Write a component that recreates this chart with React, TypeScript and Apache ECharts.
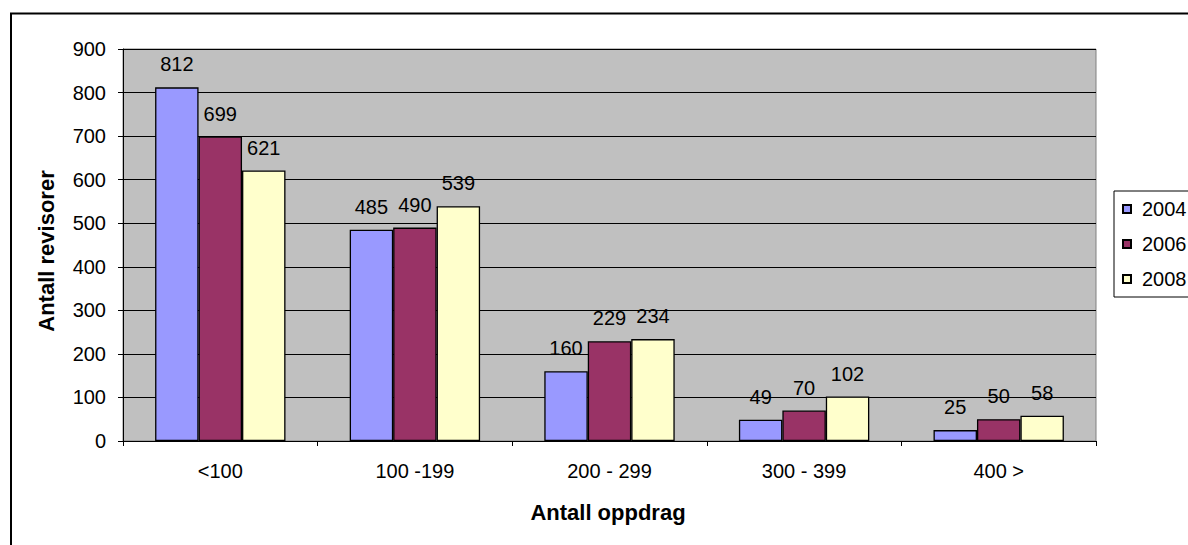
import React, { useEffect, useRef } from "react";
import * as echarts from "echarts";

const categories = ["<100", "100 -199", "200 - 299", "300 - 399", "400 >"];
const seriesNames = ["2004", "2006", "2008"];
const values2004 = [812, 485, 160, 49, 25];
const values2006 = [699, 490, 229, 70, 50];
const values2008 = [621, 539, 234, 102, 58];
const colors = ["#9999FF", "#993366", "#FFFFCC"];
const yAxisTitle = "Antall revisorer";
const xAxisTitle = "Antall oppdrag";

const FONT = "'Liberation Sans', Arial, sans-serif";

export default function App() {
  const ref = useRef<HTMLDivElement>(null);
  useEffect(() => {
    if (!ref.current) return;
    const chart = echarts.init(ref.current, undefined, { renderer: "svg" });
    const data = [values2004, values2006, values2008];
    chart.setOption({
      animation: false,
      backgroundColor: "#ffffff",
      textStyle: { fontFamily: FONT },
      grid: {
        left: 123,
        top: 49,
        right: 92,
        bottom: 104,
        show: true,
        backgroundColor: "#C0C0C0",
        borderColor: "#808080",
        borderWidth: 1,
      },
      legend: {
        orient: "vertical",
        left: 1114,
        top: 191,
        padding: [8, 10, 8, 8],
        itemGap: 15,
        itemWidth: 8,
        itemHeight: 8,
        icon: "rect",
        borderColor: "#000",
        borderWidth: 1,
        textStyle: { fontSize: 20, color: "#000", fontFamily: FONT, padding: [0, 0, 0, 6] },
        data: seriesNames,
      },
      xAxis: {
        type: "category",
        data: categories,
        axisLine: { show: true, lineStyle: { color: "#000", width: 1 } },
        axisTick: { show: true, length: 5, lineStyle: { color: "#000" } },
        axisLabel: { fontSize: 20, color: "#000", margin: 20, fontFamily: FONT },
        splitLine: { show: false },
      },
      yAxis: {
        type: "value",
        min: 0,
        max: 900,
        interval: 100,
        axisLine: { show: true, lineStyle: { color: "#000", width: 1 } },
        axisTick: { show: true, length: 5, lineStyle: { color: "#000" } },
        axisLabel: { fontSize: 20, color: "#000", margin: 17, fontFamily: FONT },
        splitLine: { show: true, lineStyle: { color: "#000", width: 1 } },
      },
      series: seriesNames.map((name, i) => ({
        name,
        type: "bar",
        data: data[i],
        barGap: "0%",
        barCategoryGap: "33%",
        itemStyle: { color: colors[i], borderColor: "#000", borderWidth: 1.3 },
        label: {
          show: true,
          position: "top",
          distance: 13,
          fontSize: 20,
          color: "#000",
          fontFamily: FONT,
        },
      })),
      graphic: [
        {
          type: "rect",
          shape: { x: 11, y: 13.5, width: 1300, height: 700 },
          style: { fill: "none", stroke: "#000", lineWidth: 2 },
          z: 100,
        },
        {
          type: "text",
          x: 46,
          y: 251,
          rotation: Math.PI / 2,
          style: {
            text: yAxisTitle,
            font: `bold 22px ${FONT}`,
            fill: "#000",
            align: "center",
            verticalAlign: "middle",
          },
        },
        {
          type: "text",
          x: 608,
          y: 512,
          style: {
            text: xAxisTitle,
            font: `bold 22px ${FONT}`,
            fill: "#000",
            align: "center",
            verticalAlign: "middle",
          },
        },
      ],
    });
    return () => chart.dispose();
  }, []);
  return (
    <div
      ref={ref}
      style={{ position: "absolute", left: 0, top: 0, width: 1188, height: 545 }}
    />
  );
}
